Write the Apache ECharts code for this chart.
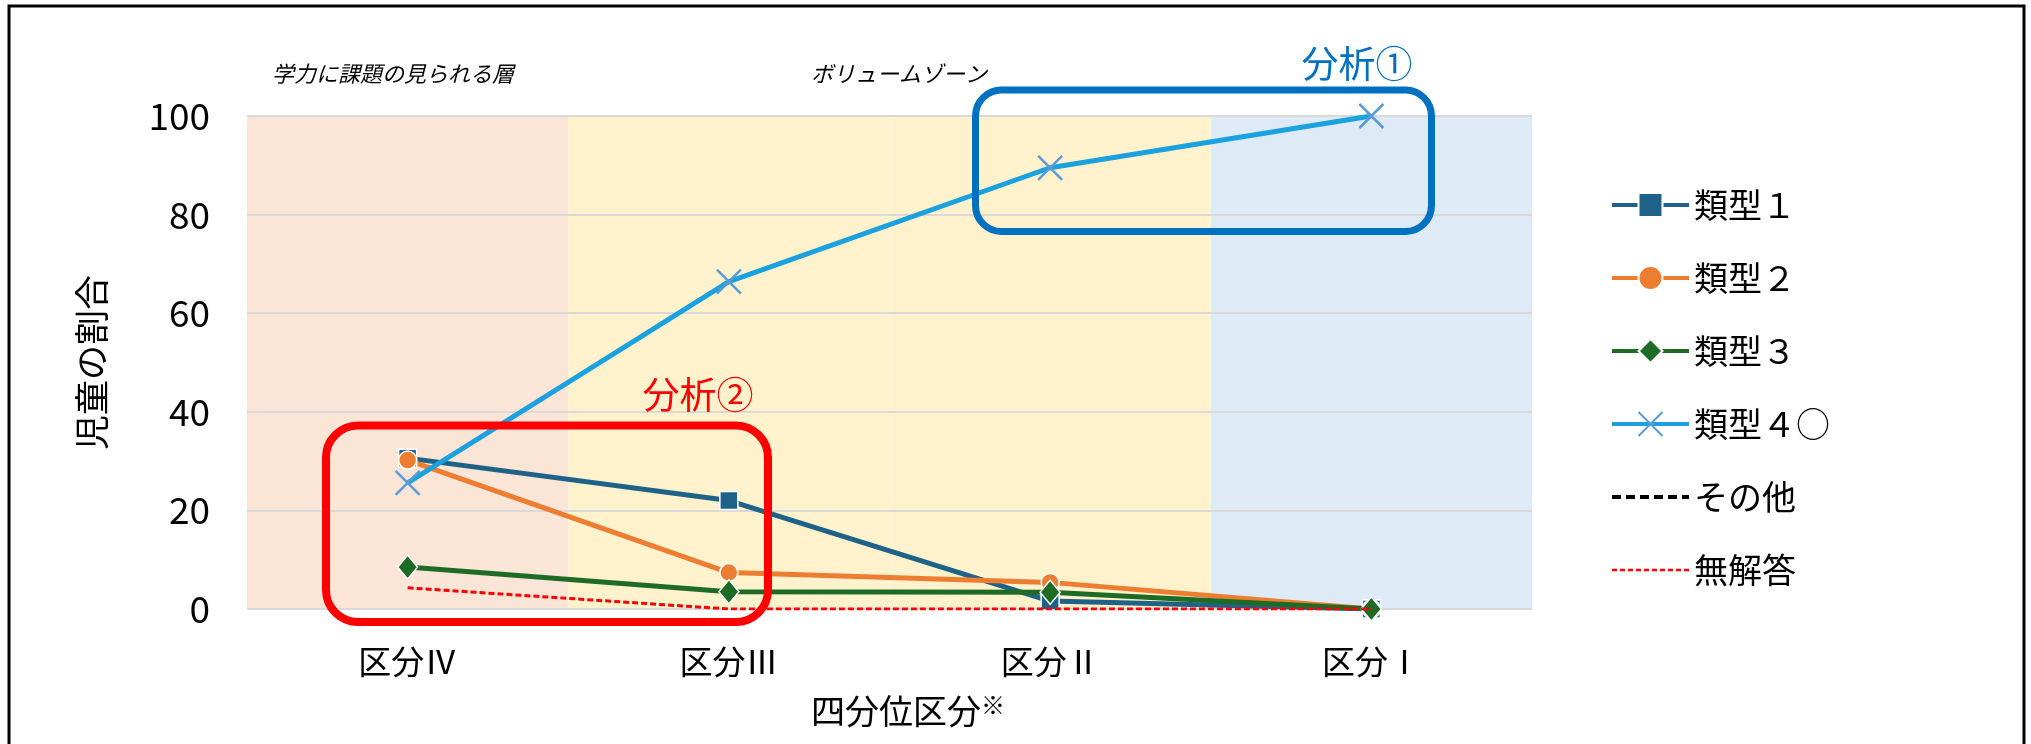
<!DOCTYPE html>
<html>
<head>
<meta charset="utf-8">
<script src="https://cdn.jsdelivr.net/npm/echarts@6/dist/echarts.min.js"></script>
<style>
  html, body { margin: 0; padding: 0; background: #fff; }
  #chart { width: 2031px; height: 744px; }
</style>
</head>
<body>
<div id="chart"></div>
<script>
// Quartile groups on the x axis
const categories = ['区分Ⅳ', '区分Ⅲ', '区分Ⅱ', '区分Ⅰ'];

// Share of pupils (%) per answer type
const type1 = [30.6, 22.0, 1.6, 0];
const type2 = [30.2, 7.4, 5.4, 0];
const type3 = [8.5, 3.5, 3.4, 0];
const type4 = [25.6, 66.4, 89.5, 100];
const others = [null, null, null, null];
const noAnswer = [4.3, 0, 0, 0];

const seriesNames = ['類型１', '類型２', '類型３', '類型４○', 'その他', '無解答'];

// Zone captions above the plot and analysis labels
const zoneCaptions = ['学力に課題の見られる層', 'ボリュームゾーン'];
const analysisLabels = ['分析①', '分析②'];

// Y axis range
const yMin = 0, yMax = 100, yStep = 20;
// Background bands span the full value range
const bandValues = [yMax, yMax, yMax, yMax];
const bandColors = ['#FBE5D6', '#FFF2CC', '#FFF2CC', '#DEEBF7'];

const FONT = '"Noto Sans CJK JP", "Noto Sans", sans-serif';

const lineColors = ['#1F6287', '#ED7D31', '#1E6B26', '#1BA1DD', '#000000', '#FF0000'];

// Legend entries: plain dashed lines for the last two, no marker
const legendData = seriesNames.map((n, i) => {
  const item = { name: n, lineStyle: { width: 4 } };
  if (i === 4) item.lineStyle = { width: 4, type: [9, 5], color: lineColors[4] };
  if (i === 5) item.lineStyle = { width: 2.5, type: [5, 3], color: lineColors[5] };
  if (i >= 4) item.itemStyle = { opacity: 0 };
  return item;
});

const chart = echarts.init(document.getElementById('chart'));

const option = {
  animation: false,
  backgroundColor: '#fff',
  grid: { left: 247, right: 499, top: 116, bottom: 135, containLabel: false },
  legend: {
    orient: 'vertical',
    left: 1605,
    top: 183,
    itemWidth: 77,
    itemHeight: 30,
    itemGap: 39,
    data: legendData,
    textStyle: { fontFamily: FONT, fontSize: 34, color: '#000' }
  },
  xAxis: {
    type: 'category',
    data: categories,
    boundaryGap: true,
    axisLine: { show: false },
    axisTick: { show: false },
    axisLabel: { fontFamily: FONT, fontSize: 33, color: '#000', margin: 36 },
    name: '四分位区分{sup|※}',
    nameLocation: 'middle',
    nameGap: 84,
    nameTextStyle: {
      fontFamily: FONT, fontSize: 34, color: '#000', padding: [0, 0, 0, 37],
      rich: { sup: { fontFamily: FONT, fontSize: 24, color: '#000', verticalAlign: 'top', padding: [0, 0, 12, 0] } }
    }
  },
  yAxis: {
    type: 'value',
    min: yMin, max: yMax, interval: yStep,
    axisLine: { show: false },
    axisTick: { show: false },
    splitLine: { lineStyle: { color: '#D9D9D9', width: 2 } },
    axisLabel: { fontFamily: FONT, fontSize: 37, color: '#000', margin: 37 },
    name: '児童の割合',
    nameLocation: 'middle',
    nameGap: 138,
    nameTextStyle: { fontFamily: FONT, fontSize: 35, color: '#000' }
  },
  series: [
    {
      name: 'zones',
      type: 'bar',
      data: bandValues.map((v, i) => ({ value: v, itemStyle: { color: bandColors[i] } })),
      barWidth: '100%',
      barCategoryGap: 0,
      silent: true,
      z: -1,
      legendHoverLink: false
    },
    {
      name: seriesNames[0], type: 'line', data: type1,
      symbol: 'rect', symbolSize: 18,
      lineStyle: { color: lineColors[0], width: 5 },
      itemStyle: { color: lineColors[0], borderColor: '#fff', borderWidth: 1.5 },
      z: 3
    },
    {
      name: seriesNames[1], type: 'line', data: type2,
      symbol: 'circle', symbolSize: 18,
      lineStyle: { color: lineColors[1], width: 5 },
      itemStyle: { color: lineColors[1], borderColor: '#fff', borderWidth: 1.5 },
      z: 3
    },
    {
      name: seriesNames[2], type: 'line', data: type3,
      symbol: 'diamond', symbolSize: [20, 24],
      lineStyle: { color: lineColors[2], width: 5 },
      itemStyle: { color: lineColors[2], borderColor: '#fff', borderWidth: 1.5 },
      z: 3
    },
    {
      name: seriesNames[3], type: 'line', data: type4,
      symbol: 'path://M0,0L10,10M10,0L0,10', symbolSize: 24,
      lineStyle: { color: lineColors[3], width: 5 },
      itemStyle: { color: 'rgba(0,0,0,0)', borderColor: '#5B9BD5', borderWidth: 2.5 },
      z: 4
    },
    {
      name: seriesNames[4], type: 'line', data: others,
      symbol: 'none',
      lineStyle: { color: lineColors[4], width: 4, type: [9, 5] },
      itemStyle: { color: lineColors[4] },
      z: 3
    },
    {
      name: seriesNames[5], type: 'line', data: noAnswer,
      symbol: 'none',
      lineStyle: { color: lineColors[5], width: 3, type: [6, 3] },
      itemStyle: { color: lineColors[5] },
      z: 5
    }
  ],
  graphic: [
    // outer frame
    {
      type: 'rect', z: 200, silent: true,
      shape: { x: 9, y: 6, width: 2015, height: 800 },
      style: { fill: 'none', stroke: '#000', lineWidth: 3 }
    },
    // zone captions
    {
      type: 'text', z: 200, x: 393, y: 74,
      style: { text: zoneCaptions[0], fontFamily: FONT, fontSize: 22, fontStyle: 'italic', fill: '#000', align: 'center', verticalAlign: 'middle' }
    },
    {
      type: 'text', z: 200, x: 899, y: 74,
      style: { text: zoneCaptions[1], fontFamily: FONT, fontSize: 22, fontStyle: 'italic', fill: '#000', align: 'center', verticalAlign: 'middle' }
    },
    // analysis frames
    {
      type: 'rect', z: 150, silent: true,
      shape: { x: 975.5, y: 90, width: 456, height: 141.5, r: 26 },
      style: { fill: 'none', stroke: '#0070C0', lineWidth: 7 }
    },
    {
      type: 'text', z: 200, x: 1357, y: 64,
      style: { text: analysisLabels[0], fontFamily: FONT, fontSize: 37, fill: '#0070C0', align: 'center', verticalAlign: 'middle' }
    },
    {
      type: 'rect', z: 150, silent: true,
      shape: { x: 326, y: 425.5, width: 442, height: 196.5, r: 32 },
      style: { fill: 'none', stroke: '#FF0000', lineWidth: 8 }
    },
    {
      type: 'text', z: 200, x: 698, y: 395,
      style: { text: analysisLabels[1], fontFamily: FONT, fontSize: 37, fill: '#FF0000', align: 'center', verticalAlign: 'middle' }
    }
  ]
};

chart.setOption(option);
</script>
</body>
</html>
